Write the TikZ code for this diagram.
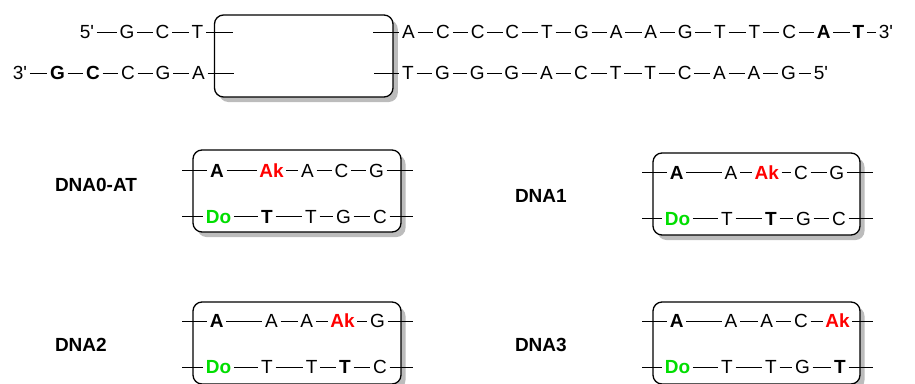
\documentclass[tikz,border=0pt]{standalone}
\usepackage{fontspec}
\setmainfont{Liberation Sans}
\definecolor{akred}{RGB}{255,0,0}
\definecolor{dogreen}{RGB}{0,222,0}
\definecolor{shadowgray}{RGB}{188,188,188}
\newcommand\seqrow[4]{%
  \foreach \t/\s/\x [count=\i] in {#3} {\node[\s] (#1\i) at (\x,#2) {\t};}
  \foreach \i [remember=\i as \lasti (initially 1)] in {2,...,#4} {\draw[bond] (#1\lasti) -- (#1\i);}
}
\begin{document}
\begin{tikzpicture}[x=1pt,y=-1pt,
  b/.style={inner xsep=2.8pt, inner ysep=0pt, outer sep=0pt, text height=13.6pt, text depth=0pt, font=\fontsize{19}{22}\selectfont},
  bb/.style={b, font=\fontsize{19}{22}\selectfont\bfseries},
  rk/.style={bb, text=akred},
  gd/.style={bb, text=dogreen},
  lab/.style={b, inner xsep=0pt, anchor=west, font=\fontsize{19}{22}\selectfont\bfseries},
  bond/.style={line width=0.95pt},
  frame/.style={draw, line width=1.3pt, rounded corners=9pt, fill=white, inner sep=0pt, outer sep=0pt},
  shadowbox/.style={fill=shadowgray, rounded corners=9pt, inner sep=0pt, outer sep=0pt}]
\useasboundingbox (0,0) rectangle (915,383);

% ---------- top duplex ----------
\node[shadowbox, minimum width=178.5pt, minimum height=82pt] (topsh) at (308.5,61) {};
\node[frame, minimum width=178.5pt, minimum height=82pt] (topbox) at (303.75,56) {};

\seqrow{tl}{32}{5\textquotesingle/b/87, G/b/127, C/b/162.5, T/b/197.5}{4}
\seqrow{bl}{73}{3\textquotesingle/b/20, G/bb/57.5, C/bb/93, C/b/128, G/b/163, A/b/198.5}{6}
\coordinate (tlend) at (233,32);
\coordinate (blend) at (234,73);
\draw[bond] (tl4) -- (tlend);
\draw[bond] (bl6) -- (blend);

\seqrow{tr}{32}{A/b/408.5, C/b/443.1, C/b/477.7, C/b/512.3, T/b/546.9, G/b/581.5, A/b/616.1, A/b/650.7, G/b/685.3, T/b/719.9, T/b/754.5, C/b/789.1, A/bb/823.7, T/bb/858.3, 3\textquotesingle/b/886}{15}
\seqrow{br}{73}{T/b/408, G/b/442.6, G/b/477.2, G/b/511.8, A/b/546.4, C/b/581, T/b/615.6, T/b/650.2, C/b/684.8, A/b/719.4, A/b/754, G/b/788.6, 5\textquotesingle/b/821}{13}
\coordinate (trstart) at (373,32);
\coordinate (brstart) at (374,73);
\draw[bond] (trstart) -- (tr1);
\draw[bond] (brstart) -- (br1);

% ---------- DNA0-AT ----------
\node[shadowbox, minimum width=208pt, minimum height=82pt] (s0) at (301.5,196) {};
\node[frame, minimum width=208pt, minimum height=82pt] (f0) at (297,191) {};
\node[lab] (n0) at (55,184.5) {DNA0-AT};
\seqrow{a0}{170.5}{A/bb/217, Ak/rk/271.5, A/b/307.5, C/b/341.5, G/b/376.5}{5}
\seqrow{c0}{216.5}{Do/gd/218.5, T/bb/267, T/b/311, G/b/343.5, C/b/380}{5}
\coordinate (a0l) at (182,170.5); \coordinate (a0r) at (413,170.5);
\coordinate (c0l) at (182,216.5); \coordinate (c0r) at (413,216.5);
\draw[bond] (a0l) -- (a01); \draw[bond] (a05) -- (a0r);
\draw[bond] (c0l) -- (c01); \draw[bond] (c05) -- (c0r);

% ---------- DNA1 ----------
\node[shadowbox, minimum width=207pt, minimum height=82pt] (s1) at (761,199) {};
\node[frame, minimum width=207pt, minimum height=82pt] (f1) at (756.5,194) {};
\node[lab] (n1) at (515,195.5) {DNA1};
\seqrow{a1}{172.5}{A/bb/676.7, A/b/731, Ak/rk/766.7, C/b/801, G/b/836.7}{5}
\seqrow{c1}{218.5}{Do/gd/677.5, T/b/727, T/bb/771, G/b/803.5, C/b/839}{5}
\coordinate (a1l) at (642,172.5); \coordinate (a1r) at (873,172.5);
\coordinate (c1l) at (642,218.5); \coordinate (c1r) at (873,218.5);
\draw[bond] (a1l) -- (a11); \draw[bond] (a15) -- (a1r);
\draw[bond] (c1l) -- (c11); \draw[bond] (c15) -- (c1r);

% ---------- DNA2 ----------
\node[shadowbox, minimum width=208pt, minimum height=82pt] (s2) at (301.5,348) {};
\node[frame, minimum width=208pt, minimum height=82pt] (f2) at (297,343) {};
\node[lab] (n2) at (55,345) {DNA2};
\seqrow{a2}{321}{A/bb/216.7, A/b/271.5, A/b/306.7, Ak/rk/342.5, G/b/377.5}{5}
\seqrow{c2}{367}{Do/gd/218.5, T/b/267, T/b/311.7, T/bb/345, C/b/380}{5}
\coordinate (a2l) at (182,321); \coordinate (a2r) at (413,321);
\coordinate (c2l) at (182,367); \coordinate (c2r) at (413,367);
\draw[bond] (a2l) -- (a21); \draw[bond] (a25) -- (a2r);
\draw[bond] (c2l) -- (c21); \draw[bond] (c25) -- (c2r);

% ---------- DNA3 ----------
\node[shadowbox, minimum width=207pt, minimum height=82pt] (s3) at (761,348) {};
\node[frame, minimum width=207pt, minimum height=82pt] (f3) at (756.5,343) {};
\node[lab] (n3) at (515,345) {DNA3};
\seqrow{a3}{321}{A/bb/676.7, A/b/731, A/b/766.7, C/b/801, Ak/rk/837.5}{5}
\seqrow{c3}{367}{Do/gd/677.5, T/b/727, T/b/771, G/b/802.5, T/bb/840}{5}
\coordinate (a3l) at (642,321); \coordinate (a3r) at (873,321);
\coordinate (c3l) at (642,367); \coordinate (c3r) at (873,367);
\draw[bond] (a3l) -- (a31); \draw[bond] (a35) -- (a3r);
\draw[bond] (c3l) -- (c31); \draw[bond] (c35) -- (c3r);
\end{tikzpicture}
\end{document}
